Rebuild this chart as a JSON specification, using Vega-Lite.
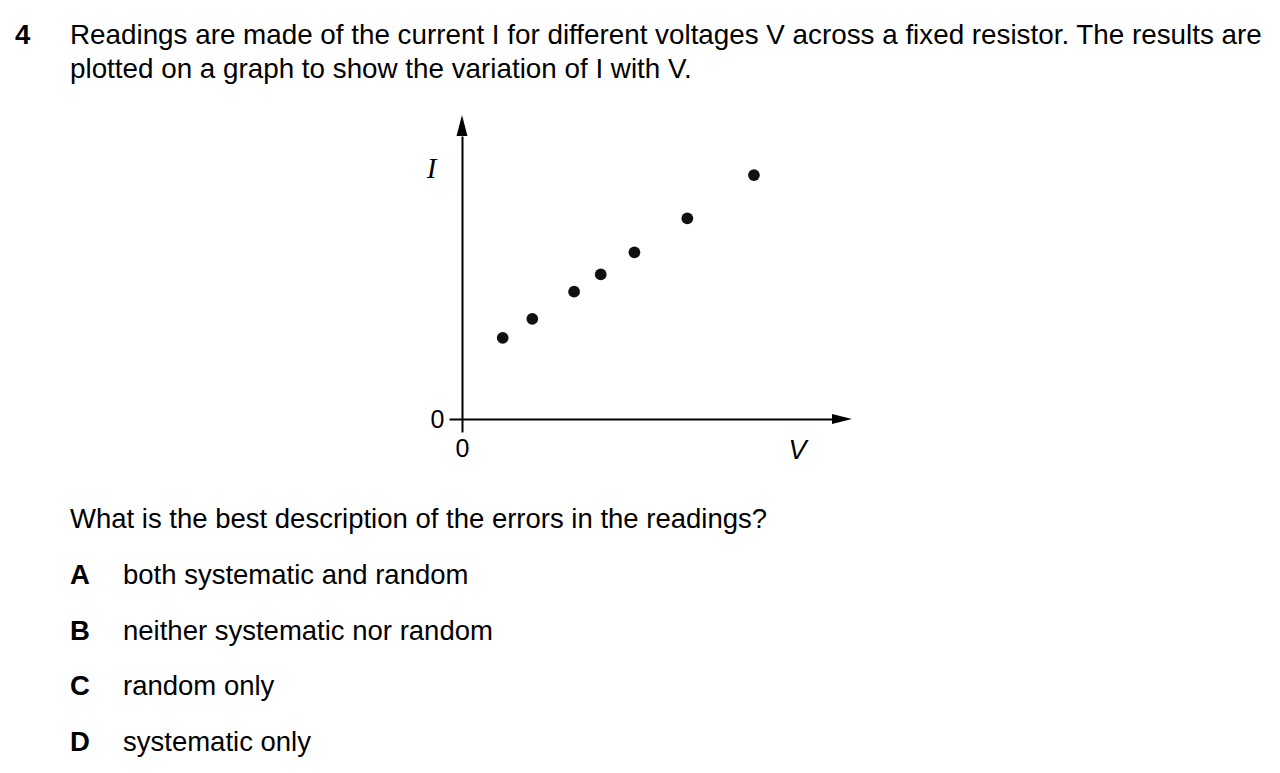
{
  "$schema": "https://vega.github.io/schema/vega-lite/v6.json",
  "padding": 0,
  "spacing": 0,
  "background": "white",
  "config": {
    "view": {"stroke": null},
    "text": {"font": "Liberation Sans", "fontSize": 27.5, "color": "black", "align": "left", "baseline": "alphabetic"}
  },
  "datasets": {
    "header": [
      {"line": 1, "number": "4", "text": "Readings are made of the current I for different voltages V across a fixed resistor. The results are"},
      {"line": 2, "number": "", "text": "plotted on a graph to show the variation of I with V."}
    ],
    "readings": [
      {"V": 1.10, "I": 2.87},
      {"V": 1.90, "I": 3.54},
      {"V": 3.03, "I": 4.50},
      {"V": 3.75, "I": 5.11},
      {"V": 4.66, "I": 5.89},
      {"V": 6.09, "I": 7.09},
      {"V": 7.89, "I": 8.62}
    ],
    "options": [
      {"key": "Q", "text": "What is the best description of the errors in the readings?"},
      {"key": "A", "text": "both systematic and random"},
      {"key": "B", "text": "neither systematic nor random"},
      {"key": "C", "text": "random only"},
      {"key": "D", "text": "systematic only"}
    ]
  },
  "vconcat": [
    {
      "width": 1280,
      "height": 115,
      "data": {"name": "header"},
      "encoding": {
        "y": {"field": "line", "type": "ordinal", "scale": {"type": "point", "domain": [1, 2], "range": [44, 78], "padding": 0}, "axis": null}
      },
      "layer": [
        {
          "transform": [{"filter": "datum.line == 1"}],
          "mark": {"type": "text", "fontWeight": "bold"},
          "encoding": {
            "x": {"datum": "number", "type": "nominal", "scale": {"type": "point", "domain": ["number", "body"], "range": [15, 70], "padding": 0}, "axis": null},
            "text": {"field": "number"}
          }
        },
        {
          "mark": {"type": "text", "fontSize": 27.8},
          "encoding": {
            "x": {"datum": "body", "type": "nominal"},
            "text": {"field": "text"}
          }
        }
      ]
    },
    {
      "spacing": 0,
      "hconcat": [
        {
          "width": 426,
          "height": 1,
          "data": {"values": []},
          "mark": "point"
        },
        {
          "width": 370,
          "height": 283,
          "layer": [
            {
              "data": {"name": "readings"},
              "mark": {"type": "point", "filled": true, "size": 138, "color": "#111111", "opacity": 1},
              "encoding": {
                "x": {
                  "field": "V", "type": "quantitative",
                  "scale": {"domain": [0, 10], "nice": false},
                  "axis": {
                    "values": [0], "grid": false, "labelFlush": false,
                    "domainColor": "black", "domainWidth": 2, "tickColor": "black", "tickWidth": 2, "tickSize": 13,
                    "labelFont": "Liberation Sans", "labelFontSize": 25, "labelColor": "black", "labelPadding": 4,
                    "title": "V", "titleFont": "Liberation Sans", "titleFontStyle": "italic", "titleFontWeight": "normal",
                    "titleFontSize": 27, "titleColor": "black", "titleX": 335, "titleY": 31, "titleAlign": "center", "titleBaseline": "middle"
                  }
                },
                "y": {
                  "field": "I", "type": "quantitative",
                  "scale": {"domain": [0, 10], "nice": false},
                  "axis": {
                    "values": [0], "grid": false, "labelFlush": false,
                    "domainColor": "black", "domainWidth": 2, "tickColor": "black", "tickWidth": 2, "tickSize": 13,
                    "labelFont": "Liberation Sans", "labelFontSize": 25, "labelColor": "black", "labelPadding": 5,
                    "title": "I", "titleFont": "Liberation Serif", "titleFontStyle": "italic", "titleFontWeight": "normal",
                    "titleFontSize": 29, "titleColor": "black", "titleAngle": 0, "titleX": -31, "titleY": 32, "titleAlign": "center", "titleBaseline": "middle"
                  }
                }
              }
            },
            {
              "data": {"values": [{}]},
              "mark": {"type": "point", "shape": "M0,-1L0.26,0L-0.26,0Z", "size": 1764, "filled": true, "color": "black", "opacity": 1, "strokeWidth": 0, "clip": false},
              "encoding": {
                "x": {"datum": 0, "type": "quantitative"},
                "y": {"datum": 10, "type": "quantitative"}
              }
            },
            {
              "data": {"values": [{}]},
              "mark": {"type": "point", "shape": "M1,0L0,-0.25L0,0.25Z", "size": 1600, "filled": true, "color": "black", "opacity": 1, "strokeWidth": 0, "clip": false},
              "encoding": {
                "x": {"datum": 10, "type": "quantitative"},
                "y": {"datum": 0, "type": "quantitative"}
              }
            }
          ]
        }
      ]
    },
    {
      "width": 1280,
      "height": 309,
      "data": {"name": "options"},
      "encoding": {
        "y": {"field": "key", "type": "ordinal", "scale": {"type": "point", "domain": ["Q", "A", "B", "C", "D"], "range": [65, 288], "padding": 0}, "axis": null}
      },
      "layer": [
        {
          "transform": [{"filter": "datum.key == 'Q'"}],
          "mark": {"type": "text"},
          "encoding": {
            "x": {"datum": "letter", "type": "nominal", "scale": {"type": "point", "domain": ["letter", "body"], "range": [70, 123], "padding": 0}, "axis": null},
            "text": {"field": "text"}
          }
        },
        {
          "transform": [{"filter": "datum.key != 'Q'"}],
          "mark": {"type": "text", "fontWeight": "bold"},
          "encoding": {
            "x": {"datum": "letter", "type": "nominal"},
            "text": {"field": "key"}
          }
        },
        {
          "transform": [{"filter": "datum.key != 'Q'"}],
          "mark": {"type": "text"},
          "encoding": {
            "x": {"datum": "body", "type": "nominal"},
            "text": {"field": "text"}
          }
        }
      ]
    }
  ]
}
